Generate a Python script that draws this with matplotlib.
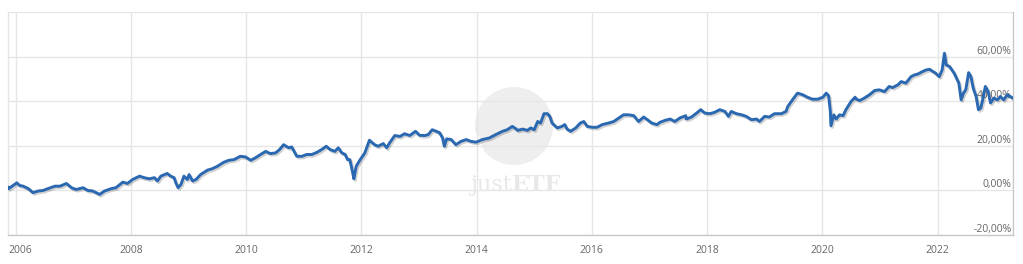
import numpy as np
import matplotlib
matplotlib.use('Agg')
import matplotlib.pyplot as plt
import matplotlib.patheffects as pe
from matplotlib.patches import Ellipse, Polygon

# performance: decimal year / cumulative return in %
years = [
    2005.87, 2005.88, 2006.02, 2006.07, 2006.13, 2006.22, 2006.30, 2006.39, 2006.48, 2006.56,
    2006.68, 2006.77, 2006.88, 2006.97, 2007.05, 2007.17, 2007.25, 2007.34, 2007.46, 2007.54,
    2007.66, 2007.74, 2007.86, 2007.94, 2008.03, 2008.15, 2008.23, 2008.32, 2008.41, 2008.46,
    2008.52, 2008.63, 2008.69, 2008.75, 2008.78, 2008.82, 2008.87, 2008.92, 2008.98, 2009.01,
    2009.07, 2009.13, 2009.21, 2009.33, 2009.41, 2009.50, 2009.61, 2009.70, 2009.79, 2009.90,
    2009.99, 2010.08, 2010.16, 2010.25, 2010.34, 2010.42, 2010.51, 2010.58, 2010.65, 2010.74,
    2010.79, 2010.88, 2010.97, 2011.05, 2011.14, 2011.23, 2011.31, 2011.39, 2011.46, 2011.54,
    2011.60, 2011.66, 2011.72, 2011.76, 2011.80, 2011.85, 2011.87, 2011.91, 2011.98, 2012.06,
    2012.14, 2012.23, 2012.29, 2012.38, 2012.44, 2012.49, 2012.58, 2012.67, 2012.75, 2012.84,
    2012.94, 2013.01, 2013.10, 2013.16, 2013.23, 2013.30, 2013.36, 2013.41, 2013.44, 2013.48,
    2013.56, 2013.64, 2013.73, 2013.82, 2013.90, 2013.99, 2014.10, 2014.22, 2014.33, 2014.45,
    2014.53, 2014.62, 2014.69, 2014.71, 2014.80, 2014.88, 2014.94, 2015.00, 2015.06, 2015.11,
    2015.17, 2015.23, 2015.27, 2015.31, 2015.40, 2015.48, 2015.53, 2015.57, 2015.63, 2015.72,
    2015.80, 2015.86, 2015.92, 2016.01, 2016.09, 2016.18, 2016.29, 2016.38, 2016.47, 2016.55,
    2016.64, 2016.73, 2016.81, 2016.90, 2016.98, 2017.04, 2017.13, 2017.18, 2017.27, 2017.36,
    2017.44, 2017.53, 2017.63, 2017.64, 2017.73, 2017.82, 2017.89, 2017.96, 2018.05, 2018.13,
    2018.22, 2018.31, 2018.37, 2018.42, 2018.51, 2018.60, 2018.68, 2018.77, 2018.86, 2018.91,
    2019.00, 2019.08, 2019.17, 2019.29, 2019.37, 2019.40, 2019.49, 2019.57, 2019.66, 2019.74,
    2019.83, 2019.92, 2020.01, 2020.07, 2020.11, 2020.14, 2020.15, 2020.20, 2020.24, 2020.30,
    2020.36, 2020.41, 2020.50, 2020.57, 2020.59, 2020.65, 2020.73, 2020.82, 2020.91, 2020.99,
    2021.08, 2021.16, 2021.22, 2021.31, 2021.37, 2021.45, 2021.54, 2021.60, 2021.66, 2021.74,
    2021.80, 2021.86, 2021.92, 2021.97, 2022.03, 2022.08, 2022.12, 2022.15, 2022.21, 2022.25,
    2022.29, 2022.33, 2022.37, 2022.41, 2022.45, 2022.49, 2022.54, 2022.58, 2022.62, 2022.67,
    2022.71, 2022.75, 2022.79, 2022.83, 2022.88, 2022.92, 2022.98, 2023.04, 2023.09, 2023.15,
    2023.21, 2023.30,
]
perf = [
    1.3, 0.8, 3.4, 2.2, 1.9, 0.8, -1.0, -0.3, 0.0, 0.8,
    1.9, 1.9, 3.1, 1.2, 0.4, 1.2, 0.0, -0.3, -1.8, -0.3,
    0.8, 1.2, 3.7, 3.1, 4.9, 6.4, 5.7, 5.2, 5.7, 4.2,
    6.4, 7.6, 6.4, 5.7, 3.4, 1.2, 2.7, 6.4, 4.9, 7.1,
    4.2, 4.9, 7.1, 9.1, 9.7, 10.8, 12.6, 13.5, 13.8, 15.3,
    15.0, 13.5, 14.6, 16.1, 17.5, 16.5, 16.8, 18.3, 20.5, 19.1,
    19.5, 15.3, 15.3, 16.1, 16.1, 17.1, 18.3, 19.8, 18.3, 17.5,
    19.1, 16.8, 16.1, 13.8, 13.8, 7.9, 5.2, 10.8, 13.8, 16.8,
    22.5, 20.5, 19.8, 21.0, 19.1, 21.3, 24.6, 24.2, 25.4, 24.6,
    26.5, 24.7, 24.6, 25.0, 27.2, 26.5, 25.8, 23.5, 19.8, 23.1,
    22.8, 20.5, 22.0, 22.8, 22.0, 21.6, 22.8, 23.5, 25.0, 26.5,
    27.2, 28.7, 27.5, 26.9, 27.5, 26.9, 28.0, 27.2, 30.9, 30.2,
    34.4, 34.4, 33.2, 30.2, 28.0, 28.7, 29.5, 27.5, 26.5, 28.0,
    30.2, 30.9, 28.7, 28.3, 28.3, 29.5, 30.2, 30.9, 32.5, 33.9,
    33.9, 33.5, 30.9, 32.9, 31.4, 30.2, 29.5, 30.5, 31.4, 32.0,
    30.9, 32.5, 33.5, 32.0, 32.9, 34.7, 36.2, 34.7, 34.4, 35.0,
    36.2, 35.4, 33.2, 35.4, 34.4, 33.9, 33.2, 31.7, 32.0, 30.9,
    33.2, 32.9, 34.4, 34.4, 35.4, 37.6, 40.9, 43.6, 42.9, 41.8,
    40.9, 40.9, 41.8, 43.6, 42.4, 35.4, 29.0, 33.9, 32.0, 33.9,
    33.5, 36.2, 39.9, 41.8, 40.9, 40.3, 41.4, 42.9, 44.8, 45.1,
    44.3, 46.6, 46.1, 47.3, 48.8, 48.1, 51.0, 51.8, 52.2, 53.3,
    54.0, 54.3, 53.3, 52.5, 51.0, 54.0, 61.5, 56.3, 55.5, 54.0,
    52.5, 50.3, 48.1, 40.6, 43.6, 45.1, 52.8, 51.0, 45.8, 42.1,
    36.2, 36.9, 41.4, 46.6, 44.3, 39.2, 41.4, 40.6, 42.1, 40.6,
    42.9, 41.5,
]

x_ticks = [2006, 2008, 2010, 2012, 2014, 2016, 2018, 2020, 2022]
y_ticks = [-20, 0, 20, 40, 60, 80]
y_labels = ['-20,00%', '0,00%', '20,00%', '40,00%', '60,00%', '']

W, H = 1023, 264
fig = plt.figure(figsize=(W / 100, H / 100), dpi=100)
ax = fig.add_axes([8 / W, (H - 235) / H, (1013 - 8) / W, (235 - 12) / H])
ax.set_axisbelow(True)

ax.plot(years, perf, color='#2a68b1', linewidth=2.1, zorder=3, solid_joinstyle='round',
        path_effects=[pe.SimpleLineShadow(offset=(1, -1.2), shadow_color='#000000', alpha=0.18),
                      pe.Normal()])

ax.set_xlim(2005.867, 2023.31)
ax.set_ylim(-20, 80)

ax.set_xticks(x_ticks)
# first year label is pushed inside the plot, drawn separately below
ax.set_xticklabels([''] + [str(t) for t in x_ticks[1:]])
ax.set_yticks(y_ticks)
ax.set_yticklabels(y_labels)
ax.yaxis.tick_right()
ax.grid(True, color='#e6e6e6', linewidth=1.0)
ax.tick_params(axis='x', length=0, pad=7, labelsize=7.5, labelcolor='#666666')
ax.tick_params(axis='y', length=0, pad=-1, labelsize=7.5, labelcolor='#666666')
for lbl in ax.get_yticklabels():
    lbl.set_horizontalalignment('right')
    lbl.set_verticalalignment('bottom')
for lbl in ax.get_xticklabels() + ax.get_yticklabels():
    lbl.set_fontfamily('Open Sans')
ax.annotate(str(x_ticks[0]), xy=(0, 0), xycoords='axes fraction', xytext=(0.5, -7),
            textcoords='offset points', ha='left', va='top', fontsize=7.5,
            family='Open Sans', color='#666666')

ax.spines['top'].set_visible(False)
ax.spines['left'].set_color('#e6e6e6')
ax.spines['bottom'].set_color('#c8c8c8')
ax.spines['right'].set_color('#c8c8c8')
for s in ax.spines.values():
    s.set_linewidth(1.0)

# justETF watermark
tf = fig.transFigure
ax.add_patch(Ellipse((514 / W, 1 - 126 / H), 78 / W, 78 / H, transform=tf,
                     facecolor='#eeeeee', edgecolor='none', zorder=0.2))
ax.add_patch(Polygon([(470 / W, 1 - 128 / H), (479 / W, 1 - 136 / H), (490 / W, 1 - 168 / H),
                      (470 / W, 1 - 170 / H)], closed=True, transform=tf,
                     facecolor='white', edgecolor='none', zorder=0.25))
ax.text(512 / W, 1 - 191 / H, 'just', transform=tf, ha='right', va='baseline',
        fontsize=16, family='DejaVu Serif', color='#e8e8e8', zorder=0.3)
ax.text(512 / W, 1 - 191 / H, 'ETF', transform=tf, ha='left', va='baseline',
        fontsize=16, family='DejaVu Serif', fontweight='bold', color='#e8e8e8', zorder=0.3)

fig.savefig('out.png', dpi=100)
